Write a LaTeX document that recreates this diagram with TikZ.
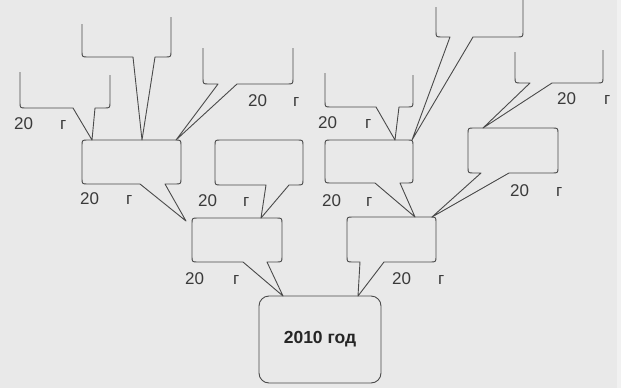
\documentclass[tikz,border=0pt]{standalone}
\usepackage{fontspec}
\setmainfont{Liberation Sans}
\definecolor{bg}{HTML}{E9E9E9}
\definecolor{bgedge}{HTML}{F1F1F1}
\definecolor{ink}{HTML}{4A4A4A}
\definecolor{txt}{HTML}{3A3A3A}
\newcommand{\opencallout}[9]{%
  \draw[calloutline] (#1,#2) -- (#1,{#5-6}) .. controls (#1,#5) .. ({#1+6},#5) -- (#6,#5) -- (#8,#9) -- (#7,#5) -- ({#3-6},#5) .. controls (#3,#5) .. (#3,{#5-6}) -- (#3,#4);}
\newcommand{\closedcallout}[8]{%
  \draw[calloutline] (#7,#8) -- (#5,#4) -- ({#1+6},#4) .. controls (#1,#4) .. (#1,{#4-6}) -- (#1,{#3+6}) .. controls (#1,#3) .. ({#1+6},#3) -- ({#2-6},#3) .. controls (#2,#3) .. (#2,{#3+6}) -- (#2,{#4-6}) .. controls (#2,#4) .. ({#2-6},#4) -- (#6,#4) -- cycle;}
\tikzset{
  calloutline/.style={draw=ink, line width=0.9pt, line join=round},
  lbl/.style={anchor=west, inner sep=0pt, text=txt, font=\fontsize{17}{20}\selectfont},
  rootbox/.style={draw=ink, line width=0.9pt, rounded corners=10pt, minimum width=122pt, minimum height=87pt, inner sep=0pt, text=black!85, font=\fontsize{17.5}{21}\selectfont\bfseries}
}
\begin{document}
\begin{tikzpicture}[x=1pt,y=-1pt]
\fill[bg] (0,0) rectangle (621,388);
\fill[bgedge] (617,0) rectangle (621,388);
\useasboundingbox (0,0) rectangle (621,388);
% top row (open tops): L, Ltop, R, Rtop, B, bl, br, tipx, tipy
\opencallout{20}{72}{110}{75}{108}{73}{95}{92}{140}
\opencallout{82}{24}{171}{17}{57}{133}{155}{142}{140}
\opencallout{203}{48}{293}{48}{84}{218}{237}{176}{140}
\opencallout{325}{73}{413}{75}{107}{376}{399}{395}{140}
\opencallout{436}{7}{523}{0}{37}{450}{473}{412}{140}
\opencallout{515}{52}{603}{50}{83}{530}{552}{483}{128}
% closed callouts: L, R, T, B, bl, br, tipx, tipy
\closedcallout{82}{181}{140}{184}{140}{165}{186}{221}
\closedcallout{215}{303}{140}{185}{266}{289}{261}{218}
\closedcallout{192}{282}{218}{262}{243}{267}{283}{296}
\closedcallout{325}{413}{140}{183}{375}{400}{415}{217}
\closedcallout{468}{558}{128}{173}{481}{509}{432}{217}
\closedcallout{347}{436}{217}{262}{360}{384}{358}{296}
% root
\node[rootbox] (root) at (320,339.5) {2010 год};
% labels
\node[lbl] (lblA) at (14,124) {20\hspace{27pt}г};
\node[lbl] (lblC) at (248,101) {20\hspace{26pt}г};
\node[lbl] (lblD) at (80,199) {20\hspace{27pt}г};
\node[lbl] (lblE) at (198,201) {20\hspace{26pt}г};
\node[lbl] (lblF) at (185,279) {20\hspace{29pt}г};
\node[lbl] (lblH) at (318,122.5) {20\hspace{28pt}г};
\node[lbl] (lblJ) at (557,99) {20\hspace{28pt}г};
\node[lbl] (lblK) at (322,201) {20\hspace{25pt}г};
\node[lbl] (lblL) at (510,191) {20\hspace{27pt}г};
\node[lbl] (lblM) at (392,279) {20\hspace{27pt}г};
\end{tikzpicture}
\end{document}
